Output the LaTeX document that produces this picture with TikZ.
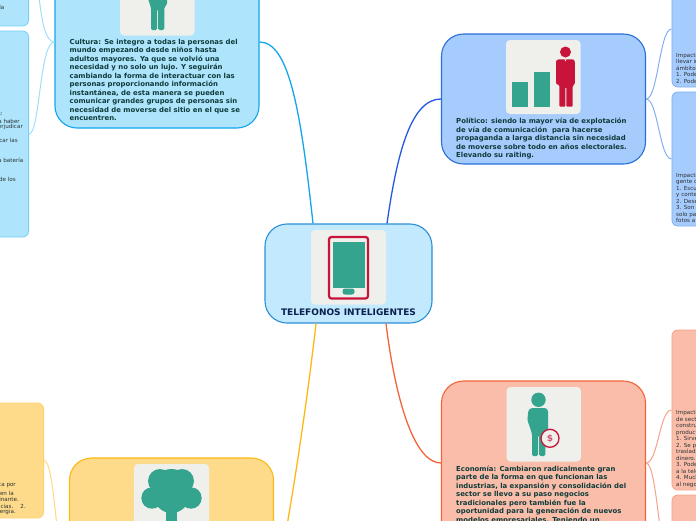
\documentclass[tikz,border=0pt]{standalone}
\usepackage{fontspec}
\setmainfont{DejaVu Sans}
\definecolor{iconbg}{HTML}{EFF0EC}
\definecolor{teal1}{HTML}{34A48E}
\definecolor{red1}{HTML}{C8143A}
\definecolor{txtdark}{HTML}{0E3B3A}
\definecolor{txtnavy}{HTML}{0B1F4F}
\definecolor{txtgray}{HTML}{2B3232}
\definecolor{cenfill}{HTML}{C2E9FD}
\definecolor{cenline}{HTML}{2B8FD6}
\definecolor{culfill}{HTML}{AEE5FD}
\definecolor{culline}{HTML}{12A5EC}
\definecolor{polfill}{HTML}{A6CBFD}
\definecolor{polline}{HTML}{2A6FD6}
\definecolor{ecofill}{HTML}{F9BDA9}
\definecolor{ecoline}{HTML}{F4633A}
\definecolor{natfill}{HTML}{FEDB8B}
\definecolor{natline}{HTML}{FDB913}
\tikzset{
    topicbox/.style={draw, rounded corners=22pt, inner sep=0pt, line width=1.1pt, minimum width=204pt},
    subbox/.style={draw, rounded corners=6pt, inner sep=0pt, line width=0.8pt, minimum width=144pt},
    maintext/.style={anchor=north west, inner sep=0pt, align=left, text=txtdark, font=\fontsize{6.9}{8.5}\selectfont\bfseries},
    smalltext/.style={anchor=north west, inner sep=0pt, align=left, text=txtgray, font=\fontsize{5.6}{6.5}\selectfont},
    fragment/.style={anchor=east, inner sep=0pt, text=txtgray, font=\fontsize{5.6}{6.5}\selectfont},
    iconback/.style={fill=iconbg, rounded corners=4pt},
}
\begin{document}
\begin{tikzpicture}[x=1pt,y=-1pt]
    \useasboundingbox (0,0) rectangle (696,520);
    \clip (0,0) rectangle (696,520);

    % Main topics
    \node[topicbox, fill=cenfill, draw=cenline, minimum width=167pt, minimum height=99pt] (central) at (348.5,273.5) {};
    \node[topicbox, fill=culfill, draw=culline, minimum height=172pt] (cultura) at (157,42) {};
    \node[topicbox, fill=polfill, draw=polline, minimum height=130pt] (politico) at (543.5,99) {};
    \node[topicbox, fill=ecofill, draw=ecoline, minimum height=164pt] (economia) at (543.5,463) {};
    \node[topicbox, fill=natfill, draw=natline, minimum height=250pt] (natura) at (171.5,583) {};

    % Sub topics, left
    \node[subbox, fill=culfill, draw=culline!35!culfill, minimum height=132pt, anchor=east] (culA) at (29,-40) {};
    \node[subbox, fill=culfill, draw=culline!35!culfill, minimum height=206pt, anchor=east] (culB) at (29,134) {};
    \node[subbox, fill=natfill, draw=natline!25!natfill, minimum height=115pt, anchor=east] (natA) at (44,460.5) {};

    % Sub topics, right
    \node[subbox, fill=polfill, draw=polline!30!polfill, minimum height=116pt, anchor=west] (polA) at (671.5,29) {};
    \node[subbox, fill=polfill, draw=polline!30!polfill, minimum height=134pt, anchor=west] (polB) at (671.5,159) {};
    \node[subbox, fill=ecofill, draw=ecoline!30!ecofill, minimum height=160pt, anchor=west] (ecoA) at (671.5,410) {};
    \node[subbox, fill=ecofill, draw=ecoline!30!ecofill, minimum height=155pt, anchor=west] (ecoB) at (671.5,572.5) {};

    % Connectors from the centre
    \draw[culline, line width=1.3pt] ([xshift=-35.5pt]central.north) .. controls +(-12,-110) and +(30,0) .. (cultura.east);
    \draw[polline!80!blue, line width=1.3pt] ([xshift=38.5pt]central.north) .. controls +(10,-70) and +(-30,0) .. (politico.west);
    \draw[ecoline, line width=1.3pt] ([xshift=37.5pt]central.south) .. controls +(10,80) and +(-26,0) .. (economia.west);
    \draw[natline, line width=1.3pt] ([xshift=-32.5pt]central.south) .. controls +(-12,107) and +(5,0) .. (natura.east);

    % Connectors to the sub topics
    \draw[culline!35!culfill!70!white, line width=1pt] (cultura.west) .. controls +(-18,0) and +(12,0) .. (culA.east);
    \draw[culline!35!culfill!70!white, line width=1pt] (cultura.west) .. controls +(-15,0) and +(11,0) .. (culB.east);
    \draw[natline!35!natfill!80!white, line width=1pt] (natura.west) .. controls +(-12,0) and +(12,0) .. (natA.east);
    \draw[polline!30!polfill, line width=1pt] (politico.east) .. controls +(12,0) and +(-12,0) .. (polA.west);
    \draw[polline!30!polfill, line width=1pt] (politico.east) .. controls +(12,0) and +(-12,0) .. (polB.west);
    \draw[ecoline!30!ecofill, line width=1pt] (economia.east) .. controls +(12,0) and +(-12,0) .. (ecoA.west);
    \draw[ecoline!30!ecofill, line width=1pt] (economia.east) .. controls +(12,0) and +(-12,0) .. (ecoB.west);

    % Icon backgrounds
    \fill[iconback] (311,230) rectangle (386,304.5);
    \fill[iconback] (120,-39) rectangle (194.5,35.5);
    \fill[iconback] (506,40) rectangle (580.5,114);
    \fill[iconback] (506.5,387) rectangle (581,461.5);
    \fill[iconback] (134,464) rectangle (209,538);

    % Phone
    \draw[red1, line width=2.2pt, rounded corners=2.5pt] (329,237) rectangle (368,298.5);
    \fill[teal1] (333,241.5) rectangle (364.5,287.5);
    \fill[teal1, rounded corners=2.5pt] (342.5,288.5) rectangle (354.5,294.5);

    % Teal person, twice
    \foreach \dx/\dy in {0/0,-381/-426} {
        \begin{scope}[shift={(\dx,\dy)}]
            \fill[teal1] (538.5,399.8) circle (7.2);
            \fill[teal1, rounded corners=1.5pt] (531,408) -- (546,408) -- (548,410) -- (548,431) -- (545.3,433)
                -- (545.3,456) -- (539.2,456) -- (539.2,435) -- (538,435) -- (538,456) -- (532,456)
                -- (532,434) -- (529.5,426) -- (527.3,420) -- (528.5,410) -- cycle;
        \end{scope}
    }
    % Dollar badge
    \draw[red1, line width=1.3pt, fill=iconbg] (550,438.3) circle (9);
    \node[inner sep=0pt, text=red1!75!white, font=\fontsize{9}{9}\selectfont\bfseries] (dollar) at (550,438.3) {\$};

    % Bars and red person
    \fill[teal1] (511.5,82) rectangle (528,106.5);
    \fill[teal1] (533.5,72) rectangle (550,106.5);
    \fill[red1] (565.5,52) circle (5.5);
    \fill[red1, rounded corners=1pt] (558,59.3) -- (573.5,59.3) -- (574.8,61) -- (574.8,84) -- (572.7,86)
        -- (572.7,106.7) -- (566.3,106.7) -- (566.3,87) -- (565.3,87) -- (565.3,106.7) -- (559.3,106.7)
        -- (559.3,85) -- (556,84) -- (556,61) -- cycle;
    \fill[iconbg] (564.5,59.3) -- (566.5,59.3) -- (565.5,61.5) -- cycle;

    % Tree
    \fill[teal1] (160,481) circle (12);
    \fill[teal1] (182,481) circle (12);
    \fill[teal1] (171.5,488) circle (19);
    \fill[teal1] (171.5,495) circle (18);
    \fill[teal1] (152,498) circle (10.7);
    \fill[teal1] (191,498) circle (10.7);
    \fill[teal1] (165.7,505) rectangle (176.7,538);

    % Main texts
    \node[inner sep=0pt, text=txtnavy, font=\fontsize{9}{10}\selectfont\bfseries] (cenlabel) at (348.5,312) {TELEFONOS INTELIGENTES};
    \node[maintext] (cultext) at (69.5,39) {Cultura: Se integro a todas la personas del\\mundo empezando desde niños hasta\\adultos mayores. Ya que se volvió una\\necesidad y no solo un lujo. Y seguirán\\cambiando la forma de interactuar con las\\personas proporcionando información\\instantánea, de esta manera se pueden\\comunicar grandes grupos de personas sin\\necesidad de moverse del sitio en el que se\\encuentren.};
    \node[maintext] (poltext) at (456,118) {Político: siendo la mayor vía de explotación\\de vía de comunicación~ para hacerse\\propaganda a larga distancia sin necesidad\\de moverse sobre todo en años electorales.\\Elevando su raiting.};
    \node[maintext] (ecotext) at (456,465.5) {Economía: Cambiaron radicalmente gran\\parte de la forma en que funcionan las\\industrias, la expansión y consolidación del\\sector se llevo a su paso negocios\\tradicionales pero también fue la\\oportunidad para la generación de nuevos\\modelos empresariales. Teniendo un};

    % Small texts, right
    \node[smalltext] (polAtext) at (676,53) {Impacto\\llevar in\\ámbito\\1. Poder\\2. Poder};
    \node[smalltext] (polBtext) at (676,173) {Impacto\\gente d\\1. Escu\\y conte\\2. Dese\\3. Son\\solo pa\\fotos a};
    \node[smalltext] (ecoAtext) at (676,410.5) {Impacto\\de sect\\constru\\product\\1. Sirve\\2. Se p\\traslada\\dinero.\\3. Pode\\a la tele\\4. Much\\al nego};

    % Small texts, left
    \node[fragment] (fragA) at (4.5,7) {la};
    \node[fragment] (fragB) at (1,14) {:};
    \node[fragment] (fragC) at (3,114) {s:};
    \node[fragment] (fragD) at (20,121) {a haber};
    \node[fragment] (fragE) at (23,127) {erjudicar};
    \node[fragment] (fragF) at (18,140) {car las};
    \node[fragment] (fragG) at (23.5,160) {a batería};
    \node[fragment] (fragH) at (16,179) {de los};
    \node[fragment] (fragI) at (16,486) {ca por};
    \node[fragment] (fragJ) at (14,493) {en la};
    \node[fragment] (fragK) at (19,499) {inante.};
    \node[fragment] (fragL) at (26,506) {cias.~~~~2.};
    \node[fragment] (fragM) at (16,512) {ergia.};
\end{tikzpicture}
\end{document}
